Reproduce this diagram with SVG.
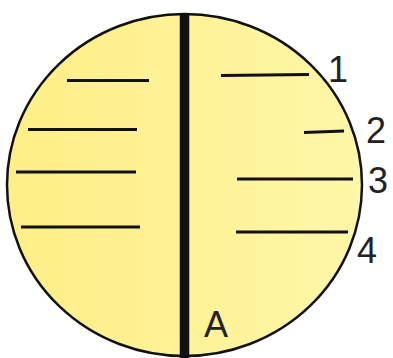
<svg xmlns="http://www.w3.org/2000/svg" width="393" height="358" viewBox="0 0 393 358">
  <defs>
    <linearGradient id="fill" x1="0" y1="0" x2="1" y2="0">
      <stop offset="0" stop-color="#feee86"/>
      <stop offset="1" stop-color="#fff6a8"/>
    </linearGradient>
  </defs>
  <style>
    .ln { stroke: #111; stroke-width: 3; fill: none; }
    .lbl { font-family: "Liberation Sans", Arial, sans-serif; font-size: 36px; fill: #222; }
  </style>
  <rect width="393" height="358" fill="#ffffff"/>
  <g id="disc">
    <ellipse cx="184.5" cy="185" rx="177.5" ry="171" fill="url(#fill)" stroke="#111" stroke-width="2.5"/>
  </g>
  <g id="axis">
    <line x1="184.5" y1="13" x2="184.5" y2="358" stroke="#111" stroke-width="9.5"/>
  </g>
  <g id="left-lines">
    <line class="ln" x1="67" y1="80.5" x2="149" y2="80.5"/>
    <line class="ln" x1="28" y1="129.5" x2="137" y2="129.5"/>
    <line class="ln" x1="16" y1="172" x2="136" y2="172"/>
    <line class="ln" x1="21" y1="227" x2="140" y2="227"/>
  </g>
  <g id="right-lines">
    <line class="ln" x1="221" y1="75.5" x2="309" y2="74.5"/>
    <line class="ln" x1="304" y1="132.5" x2="344" y2="131"/>
    <line class="ln" x1="237" y1="179" x2="353" y2="179"/>
    <line class="ln" x1="236" y1="232" x2="348" y2="232"/>
  </g>
  <g id="labels">
    <text class="lbl" x="328" y="82">1</text>
    <text class="lbl" x="366" y="143">2</text>
    <text class="lbl" x="368" y="193">3</text>
    <text class="lbl" x="357" y="263">4</text>
    <text class="lbl" x="204" y="337">A</text>
  </g>
</svg>
